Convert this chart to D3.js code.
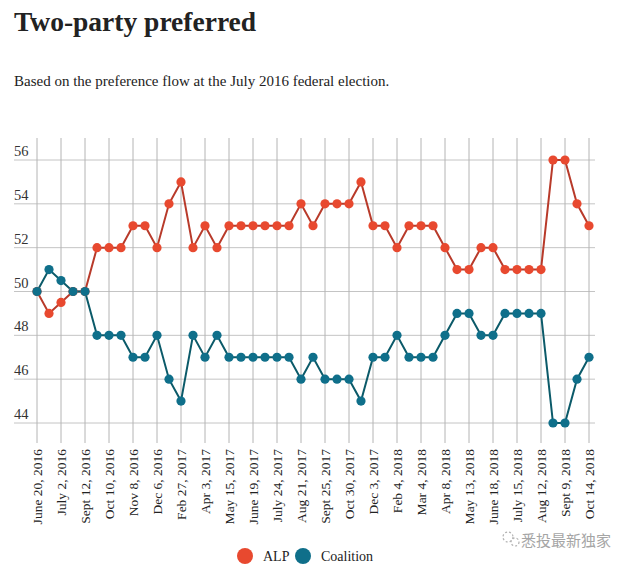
<!DOCTYPE html>
<html>
<head>
<meta charset="utf-8">
<script src="https://cdn.jsdelivr.net/npm/d3@7"></script>
<style>
  html, body { margin: 0; padding: 0; background: #fff; }
  svg { display: block; }
</style>
</head>
<body>
<svg id="chart" width="630" height="567"></svg>
<script>
// ---- data ----
const tickLabels = ["June 20, 2016","July 2, 2016","Sept 12, 2016","Oct 10, 2016","Nov 8, 2016","Dec 6, 2016",
  "Feb 27, 2017","Apr 3, 2017","May 15, 2017","June 19, 2017","July 24, 2017","Aug 21, 2017",
  "Sept 25, 2017","Oct 30, 2017","Dec 3, 2017","Feb 4, 2018","Mar 4, 2018","Apr 8, 2018",
  "May 13, 2018","June 18, 2018","July 15, 2018","Aug 12, 2018","Sept 9, 2018","Oct 14, 2018"];
const alp = [50,49,49.5,50,50,52,52,52,53,53,52,54,55,52,53,52,53,53,53,53,53,53,54,53,54,54,54,55,
  53,53,52,53,53,53,52,51,51,52,52,51,51,51,51,56,56,54,53];
const coalition = [50,51,50.5,50,50,48,48,48,47,47,48,46,45,48,47,48,47,47,47,47,47,47,46,47,46,46,46,45,
  47,47,48,47,47,47,48,49,49,48,48,49,49,49,49,44,44,46,47];
const yTicks = [44,46,48,50,52,54,56];
const seriesNames = ["ALP","Coalition"];

// ---- chart ----
const svg = d3.select("#chart");
const font = "'Liberation Serif', 'Times New Roman', serif";
const dotColors = ["#e8492f", "#0f6f8a"];
const lineColors = ["#b83a2a", "#0b5a69"];

const pollIdx = d3.range(alp.length);
const x = d3.scalePoint().domain(pollIdx).range([37, 589]);
const y = d3.scaleLinear().domain([44, 56]).range([423, 160]);

svg.append("text").attr("x", 14).attr("y", 31)
  .attr("font-family", font).attr("font-weight", "bold").attr("font-size", 27.5)
  .attr("fill", "#222").text("Two-party preferred");
svg.append("text").attr("x", 14).attr("y", 86)
  .attr("font-family", font).attr("font-size", 15)
  .attr("fill", "#222").text("Based on the preference flow at the July 2016 federal election.");

// horizontal grid + y labels
const gy = svg.append("g");
yTicks.forEach(t => {
  gy.append("line").attr("x1", 14).attr("x2", 595).attr("y1", y(t)).attr("y2", y(t))
    .attr("stroke", "#c4c4c4").attr("stroke-width", 1);
  gy.append("text").attr("x", 14).attr("y", y(t) - 4)
    .attr("font-family", font).attr("font-size", 14.5).attr("fill", "#333").text(t);
});

// vertical grid + x labels
const gx = svg.append("g");
tickLabels.forEach((lab, i) => {
  const xx = x(i * 2);
  gx.append("line").attr("x1", xx).attr("x2", xx).attr("y1", 138).attr("y2", 443)
    .attr("stroke", "#b4b4b4").attr("stroke-width", 1);
  gx.append("text")
    .attr("transform", `translate(${xx + 4.5},${449}) rotate(-90)`)
    .attr("text-anchor", "end")
    .attr("font-family", font).attr("font-size", 13.5).attr("fill", "#222").text(lab);
});

const line = d3.line().x((d, i) => x(i)).y(d => y(d));
[alp, coalition].forEach((s, k) => {
  svg.append("path").datum(s).attr("d", line)
    .attr("fill", "none").attr("stroke", lineColors[k]).attr("stroke-width", 2);
});
[alp, coalition].forEach((s, k) => {
  svg.append("g").selectAll("circle").data(s).join("circle")
    .attr("cx", (d, i) => x(i)).attr("cy", d => y(d)).attr("r", 4.6)
    .attr("fill", dotColors[k]);
});

// legend
const legX = [245, 303];
seriesNames.forEach((n, k) => {
  svg.append("circle").attr("cx", legX[k]).attr("cy", 556).attr("r", 8).attr("fill", dotColors[k]);
  svg.append("text").attr("x", legX[k] + 18).attr("y", 560.5)
    .attr("font-family", font).attr("font-size", 14).attr("fill", "#222").text(n);
});

// watermark
const wm = svg.append("g").attr("opacity", 0.75);
wm.append("circle").attr("cx", 508).attr("cy", 537).attr("r", 5).attr("fill", "none")
  .attr("stroke", "#999").attr("stroke-width", 1.2).attr("stroke-dasharray", "2,2");
wm.append("circle").attr("cx", 515).attr("cy", 542).attr("r", 4).attr("fill", "none")
  .attr("stroke", "#999").attr("stroke-width", 1.2).attr("stroke-dasharray", "2,2");
wm.append("text").attr("x", 521).attr("y", 546)
  .attr("font-family", "'Noto Sans CJK SC', sans-serif").attr("font-size", 15)
  .attr("fill", "#888").text("悉投最新独家");
</script>
</body>
</html>
